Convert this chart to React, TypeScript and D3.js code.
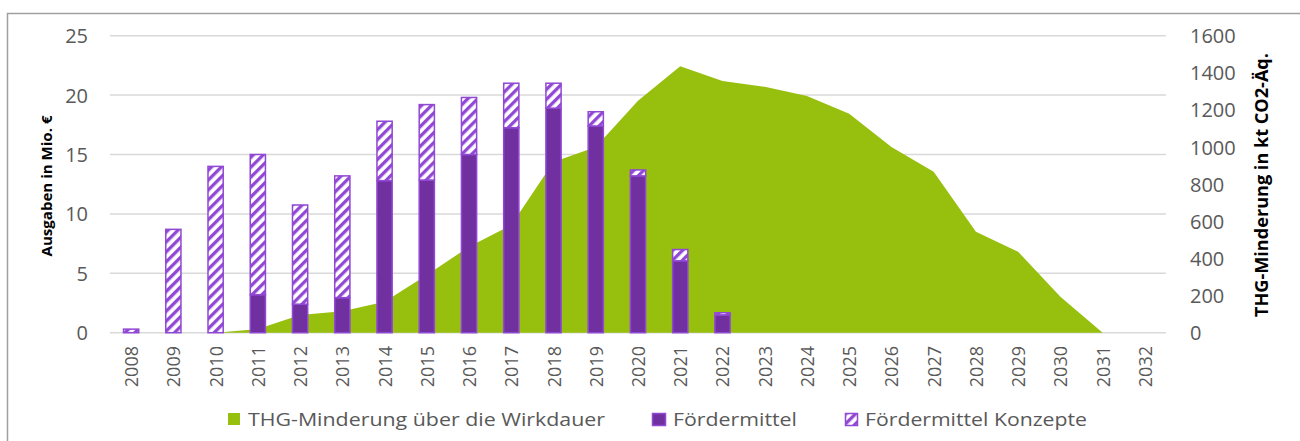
import React from 'react';
import * as d3 from 'd3';

const years = ['2008','2009','2010','2011','2012','2013','2014','2015','2016','2017','2018','2019','2020','2021','2022','2023','2024','2025','2026','2027','2028','2029','2030','2031','2032'];
const foerdermittel = [0, 0, 0, 3.2, 2.4, 2.95, 12.8, 12.85, 15.0, 17.25, 18.9, 17.4, 13.2, 6.05, 1.5, 0, 0, 0, 0, 0, 0, 0, 0, 0, 0];
const konzepte = [0.3, 8.7, 14.0, 11.8, 8.35, 10.25, 5.0, 6.35, 4.8, 3.75, 2.1, 1.2, 0.5, 0.95, 0.18, 0, 0, 0, 0, 0, 0, 0, 0, 0, 0];
const thg = [0, 0, 0, 20, 95, 115, 167, 311, 463, 580, 920, 1000, 1250, 1435, 1356, 1325, 1275, 1180, 1000, 867, 544, 436, 194, 0, 0];
const leftTicks = [0, 5, 10, 15, 20, 25];
const rightTicks = [0, 200, 400, 600, 800, 1000, 1200, 1400, 1600];
const legendLabels = ['THG-Minderung über die Wirkdauer', 'Fördermittel', 'Fördermittel Konzepte'];

const W = 1300, H = 441;
const plotLeft = 110, plotRight = 1166, plotTop = 35.7, plotBottom = 332.7;
const GREEN = '#97BF0D';
const PURPLE = '#7030A0';
const PURPLE_LIGHT = '#9148D4';
const GRAY_TEXT = '#595959';
const FONT = '"Open Sans", "Noto Sans", sans-serif';

export default function App() {
  const x = d3.scaleBand<string>().domain(years).range([plotLeft, plotRight]).paddingInner(0.64).paddingOuter(0.32);
  const xc = (y: string) => (x(y) as number) + x.bandwidth() / 2;
  const yL = d3.scaleLinear().domain([0, 25]).range([plotBottom, plotTop]);
  const yR = d3.scaleLinear().domain([0, 1600]).range([plotBottom, plotTop]);

  const area = d3.area<number>()
    .x((_, i) => xc(years[i]))
    .y0(yR(0))
    .y1((d) => yR(d));

  const bw = x.bandwidth();

  return (
    <svg width={W} height={H} style={{ position: 'absolute', left: 0, top: 0 }} fontFamily={FONT}>
      <defs>
        <pattern id="hatch" patternUnits="userSpaceOnUse" width="7" height="7" patternTransform="rotate(45)">
          <rect x="0" y="0" width="7" height="7" fill="#ffffff" />
          <rect x="0" y="0" width="3.3" height="7" fill={PURPLE_LIGHT} />
        </pattern>
      </defs>
      <rect x={0} y={0} width={W} height={H} fill="#ffffff" />
      <rect x={7.5} y={13.5} width={1400} height={600} fill="none" stroke="#a0a0a0" strokeWidth={1.5} />

      {leftTicks.map((t) => (
        <line key={'g' + t} x1={plotLeft} x2={plotRight} y1={yL(t)} y2={yL(t)} stroke="#d9d9d9" strokeWidth={1.5} />
      ))}

      <path d={area(thg) || ''} fill={GREEN} />

      {years.map((yr, i) => {
        const f = foerdermittel[i];
        const k = konzepte[i];
        const x0 = x(yr) as number;
        const els = [];
        if (f > 0) {
          els.push(
            <rect key={'f' + yr} x={x0} y={yL(f)} width={bw} height={yL(0) - yL(f)} fill={PURPLE} stroke={PURPLE_LIGHT} strokeWidth={1.5} />
          );
        }
        if (k > 0) {
          els.push(
            <rect key={'k' + yr} x={x0} y={yL(f + k)} width={bw} height={yL(f) - yL(f + k)} fill="url(#hatch)" stroke={PURPLE_LIGHT} strokeWidth={1.5} />
          );
        }
        return <g key={yr}>{els}</g>;
      })}

      {leftTicks.map((t) => (
        <text key={'l' + t} x={88} y={yL(t)} textAnchor="end" dominantBaseline="central" fontSize={20} fill={GRAY_TEXT}>{t}</text>
      ))}
      {rightTicks.map((t) => (
        <text key={'r' + t} x={1190} y={yR(t)} textAnchor="start" dominantBaseline="central" fontSize={20} fill={GRAY_TEXT}>{t}</text>
      ))}
      {years.map((yr) => (
        <text key={'x' + yr} transform={`translate(${xc(yr)},346) rotate(-90)`} textAnchor="end" dominantBaseline="central" fontSize={18} fill={GRAY_TEXT}>{yr}</text>
      ))}

      <text transform="translate(46,186) rotate(-90)" textAnchor="middle" dominantBaseline="central" fontSize={15} fontWeight="bold" fill="#000" textLength={141} lengthAdjust="spacingAndGlyphs">Ausgaben in Mio. €</text>
      <text transform="translate(1261,185) rotate(-90)" textAnchor="middle" dominantBaseline="central" fontSize={17} fontWeight="bold" fill="#000" textLength={264} lengthAdjust="spacingAndGlyphs">THG-Minderung in kt CO2-Äq.</text>

      <rect x={228} y={413} width={12} height={12} fill={GREEN} />
      <text x={248} y={426} fontSize={18} fill={GRAY_TEXT} textLength={357} lengthAdjust="spacingAndGlyphs">{legendLabels[0]}</text>
      <rect x={652.5} y={413.5} width={13} height={12} fill={PURPLE} stroke={PURPLE_LIGHT} strokeWidth={1.5} />
      <text x={673} y={426} fontSize={18} fill={GRAY_TEXT} textLength={124} lengthAdjust="spacingAndGlyphs">{legendLabels[1]}</text>
      <rect x={845.5} y={413.5} width={12} height={12} fill="url(#hatch)" stroke={PURPLE_LIGHT} strokeWidth={1.5} />
      <text x={865} y={426} fontSize={18} fill={GRAY_TEXT} textLength={222} lengthAdjust="spacingAndGlyphs">{legendLabels[2]}</text>
    </svg>
  );
}
